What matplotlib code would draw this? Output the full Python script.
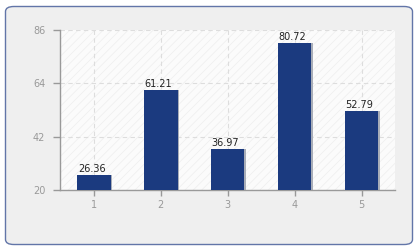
import matplotlib
matplotlib.use("Agg")
import matplotlib.pyplot as plt
from matplotlib.patches import FancyBboxPatch, Rectangle

categories = [1, 2, 3, 4, 5]
values = [26.36, 61.21, 36.97, 80.72, 52.79]
yticks = [20, 42, 64, 86]

plt.rcParams["hatch.linewidth"] = 0.5

W, H = 420, 250
fig = plt.figure(figsize=(W / 100, H / 100), dpi=100)
fig.patch.set_facecolor("white")

# outer rounded panel
box = FancyBboxPatch((5.5 / W, 5.5 / H), 407 / W, 238 / H,
                     boxstyle="round,pad=0,rounding_size=0.02",
                     transform=fig.transFigure, facecolor="#efefef",
                     edgecolor="#6275a8", linewidth=1.0, zorder=-10)
fig.patches.append(box)

ax = fig.add_axes([60.5 / W, 1 - 190 / H, 334.5 / W, 160 / H])
ax.set_zorder(1)
ax.set_facecolor("#fbfbfb")
ax.add_patch(Rectangle((0, 0), 1, 1, transform=ax.transAxes, facecolor="#fbfbfb",
                       edgecolor="#eeeeee", hatch="////", linewidth=0, zorder=0))

ax.set_xlim(0.5, 5.5)
ax.set_ylim(20, 86)
ax.set_yticks(yticks)
ax.set_xticks(categories)
ax.grid(True, color="#dddddd", linestyle=(0, (4, 3)), linewidth=0.8, zorder=1)
ax.set_axisbelow(True)

for s in ["top", "right"]:
    ax.spines[s].set_visible(False)
for s in ["left", "bottom"]:
    ax.spines[s].set_color("#999999")
    ax.spines[s].set_linewidth(1)

ax.tick_params(axis="both", colors="#999999", labelcolor="#999999", labelsize=7,
               length=5, width=1)
ax.tick_params(axis="x", length=4, pad=3)
ax.tick_params(axis="y", pad=6)

bw = 0.5
# shadow
ax.bar([c + 0.025 for c in categories], [v - 20 for v in values], bottom=20, width=bw,
       color="#a8adb8", zorder=2)
ax.bar(categories, [v - 20 for v in values], bottom=20, width=bw,
       color="#1b3a7f", zorder=3)
for c, v in zip(categories, values):
    ax.text(c - bw / 2 + 0.01, v + 0.3, f"{v:.2f}", ha="left", va="bottom",
            fontsize=7, color="#222222", zorder=4)

fig.savefig("out.png", dpi=100)
